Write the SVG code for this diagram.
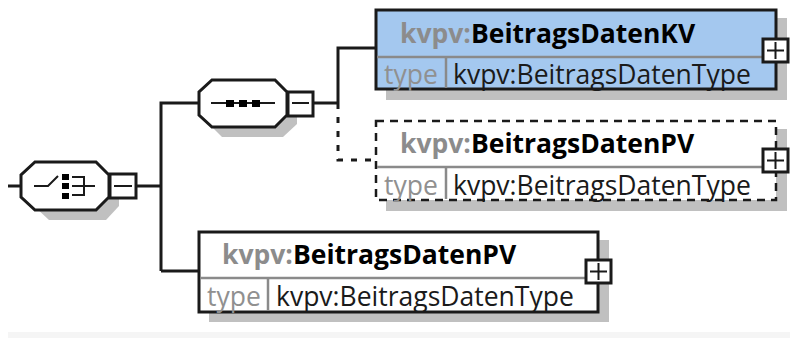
<svg xmlns="http://www.w3.org/2000/svg" width="790" height="338" viewBox="0 0 790 338">
<style>
.sh{fill:#c0c0c0}
.box{stroke:#1a1a1a;stroke-width:3;fill:#fff}
.dash{stroke-dasharray:8 6;stroke-width:2.5}
.div{stroke:#8a8a8a;stroke-width:2.5;fill:none}
.ln{stroke:#1a1a1a;stroke-width:3;fill:none}
.thin{stroke:#1a1a1a;stroke-width:2;fill:none}
.t{font-family:"Open Sans","Noto Sans",sans-serif;font-size:26.5px}
.n{font-weight:700;fill:#000}
.p{fill:#8c8c8c}
.ty{fill:#1a1a1a}
.k{fill:#909090}
.dot{fill:#000}
</style>
<rect x="8" y="332" width="782" height="6" fill="#f5f5f5"/>
<g id="connectors">
<path class="ln" d="M8 186H21M136 186H161M161 271V103H199M161 271H199M313 103H338M338 103V48H376"/>
<path class="ln" d="M338 103V160H376" stroke-dasharray="6 8" stroke-width="2.500"/>
</g>
<g id="choice">
<path class="sh" d="M44 172H99L119 186V206L106 220H49L34 206V180Z"/>
<path class="box" d="M35 162H96L109 175V197L96 210H35L21 197V175Z"/>
<path class="thin" d="M34 186H48L58 176M72 186H95M72 177H84V195H72"/>
<rect class="dot" x="62" y="174" width="7" height="6"/><rect class="dot" x="62" y="183" width="7" height="6"/><rect class="dot" x="62" y="193" width="7" height="6"/>
<rect class="box" x="110" y="174" width="26" height="24"/>
<path class="thin" d="M114 186H132"/>
</g>
<g id="sequence">
<path class="sh" d="M222 90H276L297 104V124L283 137H222L209 124V98Z"/>
<path class="box" d="M212 80H275L287 92V115L275 127H212L199 115V92Z"/>
<path class="thin" d="M211 103H275"/>
<rect class="dot" x="226" y="100" width="8" height="7"/><rect class="dot" x="239" y="100" width="8" height="7"/><rect class="dot" x="252" y="100" width="8" height="7"/>
<rect class="box" x="288" y="92" width="25" height="24"/>
<path class="thin" d="M292 103H309"/>
</g>
<g id="kv">
<rect class="sh" x="386" y="18" width="401" height="82"/>
<rect class="box" x="376" y="10" width="400" height="79" style="fill:#a4c8ef"/>
<path class="div" d="M377 57H775M446 57V88"/>
<text class="t n" x="400" y="43"><tspan class="p">kvpv:</tspan>BeitragsDatenKV</text>
<text class="t k" x="384" y="84">type</text>
<text class="t ty" x="453" y="84">kvpv:BeitragsDatenType</text>
<rect class="box" x="763" y="39" width="25" height="23"/>
<path class="thin" d="M767 50.500H784M775.500 42V59"/>
</g>
<g id="pv-optional">
<rect class="sh" x="386" y="129" width="401" height="82"/>
<rect class="box dash" x="376" y="121" width="400" height="79"/>
<path class="div" d="M377 167H775M446 167V199"/>
<text class="t n" x="400" y="153"><tspan class="p">kvpv:</tspan>BeitragsDatenPV</text>
<text class="t k" x="384" y="195">type</text>
<text class="t ty" x="453" y="195">kvpv:BeitragsDatenType</text>
<rect class="box" x="763" y="149" width="25" height="23"/>
<path class="thin" d="M767 160.500H784M775.500 152V169"/>
</g>
<g id="pv">
<rect class="sh" x="209" y="240" width="400" height="82"/>
<rect class="box" x="199" y="232" width="399" height="80"/>
<path class="div" d="M200 278H597M268 278V311"/>
<text class="t n" x="222" y="264"><tspan class="p">kvpv:</tspan>BeitragsDatenPV</text>
<text class="t k" x="207" y="306">type</text>
<text class="t ty" x="276" y="306">kvpv:BeitragsDatenType</text>
<rect class="box" x="586" y="260" width="25" height="23"/>
<path class="thin" d="M590 271.500H607M598.500 263V280"/>
</g>
</svg>
